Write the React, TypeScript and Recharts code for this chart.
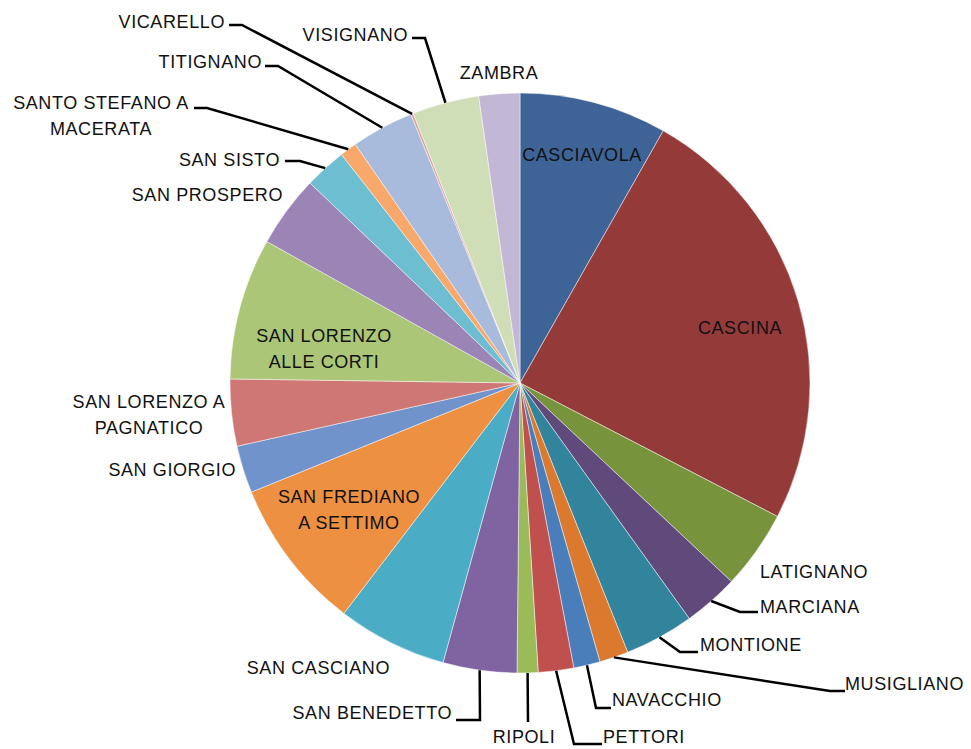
import { PieChart, Pie, Cell } from 'recharts';

// frazioni, clockwise from 12 o'clock
const NAMES = [
  'CASCIAVOLA', 'CASCINA', 'LATIGNANO', 'MARCIANA', 'MONTIONE', 'MUSIGLIANO',
  'NAVACCHIO', 'PETTORI', 'RIPOLI', 'SAN BENEDETTO', 'SAN CASCIANO',
  'SAN FREDIANO A SETTIMO', 'SAN GIORGIO', 'SAN LORENZO A PAGNATICO',
  'SAN LORENZO ALLE CORTI', 'SAN PROSPERO', 'SAN SISTO', 'SANTO STEFANO A MACERATA',
  'TITIGNANO', 'VICARELLO', 'VISIGNANO', 'ZAMBRA',
];
const VALUES = [
  29.6, 87.8, 15.8, 11.1, 13.9, 5.8,
  5.3, 7.1, 4.2, 14.8, 22.0,
  30.5, 9.5, 13.4,
  28.4, 14.4, 8.4, 3.4,
  12.5, 0.5, 13.4, 8.2,
];
const COLORS = [
  '#3E6497', '#943B3A', '#77933C', '#604A7B', '#31849B', '#DB7A2E',
  '#4A7EBB', '#C0504D', '#9BBB59', '#8064A2', '#4BACC6',
  '#EE9042', '#7093CB', '#CF7775', '#ABC676', '#9A85B6', '#6EBED2', '#F8A86A',
  '#A8BBDC', '#DDA3A1', '#D0DEB7', '#C2B8D5',
];

const data = NAMES.map((name, i) => ({ name, value: VALUES[i] }));

const CX = 520;
const CY = 383;
const R = 290;

type LabelSpot = {
  lines: string[];
  dx: number;
  dy: number;
  anchor: 'start' | 'middle' | 'end';
  leader?: [number, number][];
};

// label placement, offsets from the pie centre
const LABELS: Record<string, LabelSpot> = {
  'CASCIAVOLA': { lines: ['CASCIAVOLA'], dx: 62, dy: -228, anchor: 'middle' },
  'CASCINA': { lines: ['CASCINA'], dx: 220, dy: -55, anchor: 'middle' },
  'LATIGNANO': { lines: ['LATIGNANO'], dx: 240, dy: 189, anchor: 'start' },
  'MARCIANA': { lines: ['MARCIANA'], dx: 240, dy: 224, anchor: 'start', leader: [[220, 229], [238, 229]] },
  'MONTIONE': { lines: ['MONTIONE'], dx: 180, dy: 262, anchor: 'start', leader: [[160, 269], [178, 269]] },
  'MUSIGLIANO': { lines: ['MUSIGLIANO'], dx: 325, dy: 301, anchor: 'start', leader: [[310, 308], [325, 308]] },
  'NAVACCHIO': { lines: ['NAVACCHIO'], dx: 92, dy: 317, anchor: 'start', leader: [[76, 325], [91, 325]] },
  'PETTORI': { lines: ['PETTORI'], dx: 83, dy: 354, anchor: 'start', leader: [[54, 361], [82, 361]] },
  'RIPOLI': { lines: ['RIPOLI'], dx: 4, dy: 354, anchor: 'middle', leader: [[8, 339]] },
  'SAN BENEDETTO': { lines: ['SAN BENEDETTO'], dx: -68, dy: 330, anchor: 'end', leader: [[-40, 337], [-64, 337]] },
  'SAN CASCIANO': { lines: ['SAN CASCIANO'], dx: -130, dy: 285, anchor: 'end' },
  'SAN FREDIANO A SETTIMO': { lines: ['SAN FREDIANO', 'A SETTIMO'], dx: -171, dy: 114, anchor: 'middle' },
  'SAN GIORGIO': { lines: ['SAN GIORGIO'], dx: -284, dy: 87, anchor: 'end' },
  'SAN LORENZO A PAGNATICO': { lines: ['SAN LORENZO A', 'PAGNATICO'], dx: -371, dy: 19, anchor: 'middle' },
  'SAN LORENZO ALLE CORTI': { lines: ['SAN LORENZO', 'ALLE CORTI'], dx: -196, dy: -47, anchor: 'middle' },
  'SAN PROSPERO': { lines: ['SAN PROSPERO'], dx: -237, dy: -188, anchor: 'end' },
  'SAN SISTO': { lines: ['SAN SISTO'], dx: -240, dy: -223, anchor: 'end', leader: [[-220, -222], [-235, -222]] },
  'SANTO STEFANO A MACERATA': { lines: ['SANTO STEFANO A', 'MACERATA'], dx: -419, dy: -280, anchor: 'middle', leader: [[-313, -275], [-326, -275]] },
  'TITIGNANO': { lines: ['TITIGNANO'], dx: -258, dy: -321, anchor: 'end', leader: [[-242, -317], [-255, -317]] },
  'VICARELLO': { lines: ['VICARELLO'], dx: -295, dy: -361, anchor: 'end', leader: [[-278, -358], [-291, -358]] },
  'VISIGNANO': { lines: ['VISIGNANO'], dx: -112, dy: -348, anchor: 'end', leader: [[-95, -345], [-108, -345]] },
  'ZAMBRA': { lines: ['ZAMBRA'], dx: -21, dy: -310, anchor: 'middle' },
};

const RAD = Math.PI / 180;
const LINE_H = 26;

function renderLabel(props: any) {
  const { midAngle, outerRadius, index } = props;
  const cx = props.cx ?? CX;
  const cy = props.cy ?? CY;
  const spot = LABELS[NAMES[index]];
  if (!spot) return null;
  const ex = cx + outerRadius * Math.cos(-midAngle * RAD);
  const ey = cy + outerRadius * Math.sin(-midAngle * RAD);
  const pts = spot.leader
    ? [[ex, ey], ...spot.leader.map(([x, y]) => [cx + x, cy + y])]
    : null;
  return (
    <g key={`lbl-${index}`}>
      {pts && (
        <polyline
          points={pts.map((p) => p.join(',')).join(' ')}
          fill="none"
          stroke="#000"
          strokeWidth={2.5}
        />
      )}
      <text
        x={cx + spot.dx}
        y={cy + spot.dy}
        textAnchor={spot.anchor}
        dominantBaseline="central"
        fill="#111"
        fontSize={18}
        letterSpacing={0.6}
        fontFamily="'Liberation Sans', Arial, sans-serif"
      >
        {spot.lines.map((ln, i) => (
          <tspan key={i} x={cx + spot.dx} dy={i === 0 ? 0 : LINE_H}>
            {ln}
          </tspan>
        ))}
      </text>
    </g>
  );
}

export default function App() {
  return (
    <div style={{ position: 'absolute', left: 0, top: 0, width: 971, height: 749, background: '#fff' }}>
      <PieChart width={971} height={749} margin={{ top: 0, right: 0, bottom: 0, left: 0 }}>
        <Pie
          data={data}
          dataKey="value"
          nameKey="name"
          cx={CX}
          cy={CY}
          outerRadius={R}
          startAngle={90}
          endAngle={-270}
          stroke="rgba(255,255,255,0.6)"
          strokeWidth={0.8}
          labelLine={false}
          label={renderLabel}
          isAnimationActive={false}
        >
          {data.map((d, i) => (
            <Cell key={d.name} fill={COLORS[i]} />
          ))}
        </Pie>
      </PieChart>
    </div>
  );
}
